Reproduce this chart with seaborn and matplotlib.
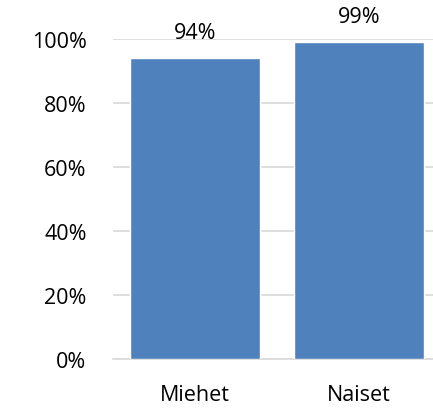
import pandas as pd
import seaborn as sns
import matplotlib.pyplot as plt
from matplotlib.ticker import PercentFormatter

# data
groups = ['Miehet', 'Naiset']
shares = [0.94, 0.99]
labels = ['94%', '99%']

sns.set_style('white')
plt.rcParams['font.family'] = ['Open Sans', 'DejaVu Sans']

df = pd.DataFrame({'group': groups, 'share': shares})

fig = plt.figure(figsize=(4.33, 4.10), dpi=100)
ax = fig.add_axes([0.261, 0.122, 0.757, 0.780])
sns.barplot(data=df, x='group', y='share', color='#4F81BD', width=0.79,
            saturation=1, ax=ax, zorder=3)

ax.set_ylim(0, 1)
ax.set_xlim(-0.5, 1.5)
ax.set_yticks([0, 0.2, 0.4, 0.6, 0.8, 1.0])
ax.yaxis.set_major_formatter(PercentFormatter(1.0, decimals=0))
ax.grid(axis='y', color='#D9D9D9', linewidth=1.2, zorder=0)
ax.set_xlabel('')
ax.set_ylabel('')
for s in ['top', 'right', 'left']:
    ax.spines[s].set_visible(False)
ax.spines['bottom'].set_color('#D9D9D9')
ax.spines['bottom'].set_linewidth(1.2)
ax.tick_params(axis='both', length=0, labelsize=15.5, colors='black')
ax.tick_params(axis='y', pad=19)
ax.tick_params(axis='x', pad=18)

for i, (v, t) in enumerate(zip(shares, labels)):
    ax.annotate(t, (i, v), xytext=(0, 11), textcoords='offset points',
                ha='center', va='bottom', fontsize=15.5, color='black',
                clip_on=False)

fig.savefig('out.png', dpi=100)
